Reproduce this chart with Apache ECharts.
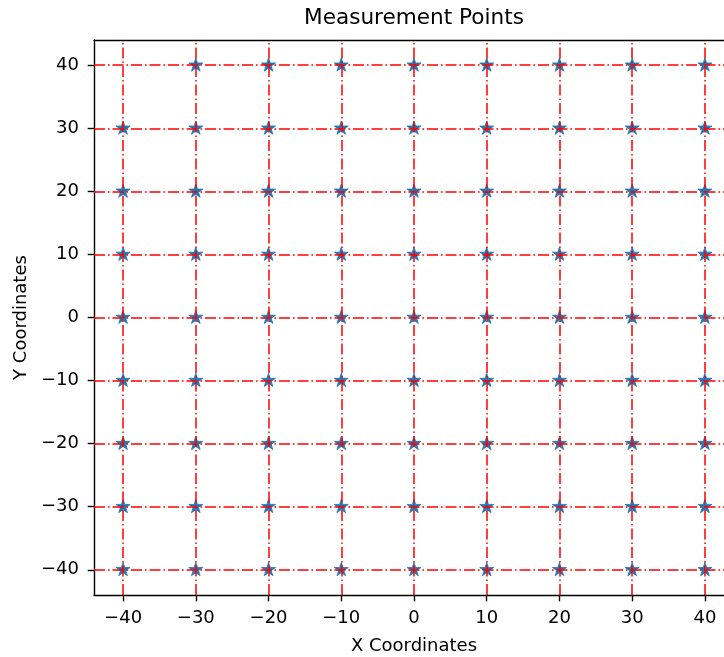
<!DOCTYPE html>
<html>
<head>
<meta charset="utf-8">
<script src="https://cdn.jsdelivr.net/npm/echarts@6/dist/echarts.min.js"></script>
<style>html,body{margin:0;padding:0;background:#fff}#c{width:724px;height:657px}</style>
</head>
<body>
<div id="c"></div>
<script>
const titleText = 'Measurement Points';
const xName = 'X Coordinates';
const yName = 'Y Coordinates';
const xTicks = [-40, -30, -20, -10, 0, 10, 20, 30, 40];
const yTicks = [-40, -30, -20, -10, 0, 10, 20, 30, 40];
const gridXs = [-40, -30, -20, -10, 0, 10, 20, 30, 40];
const gridYs = [-40, -30, -20, -10, 0, 10, 20, 30, 40];
const points = [
  [-30, 40], [-20, 40], [-10, 40], [0, 40], [10, 40], [20, 40], [30, 40], [40, 40],
  [-40, 30], [-30, 30], [-20, 30], [-10, 30], [0, 30], [10, 30], [20, 30], [30, 30], [40, 30],
  [-40, 20], [-30, 20], [-20, 20], [-10, 20], [0, 20], [10, 20], [20, 20], [30, 20], [40, 20],
  [-40, 10], [-30, 10], [-20, 10], [-10, 10], [0, 10], [10, 10], [20, 10], [30, 10], [40, 10],
  [-40, 0], [-30, 0], [-20, 0], [-10, 0], [0, 0], [10, 0], [20, 0], [30, 0], [40, 0],
  [-40, -10], [-30, -10], [-20, -10], [-10, -10], [0, -10], [10, -10], [20, -10], [30, -10], [40, -10],
  [-40, -20], [-30, -20], [-20, -20], [-10, -20], [0, -20], [10, -20], [20, -20], [30, -20], [40, -20],
  [-40, -30], [-30, -30], [-20, -30], [-10, -30], [0, -30], [10, -30], [20, -30], [30, -30], [40, -30],
  [-40, -40], [-30, -40], [-20, -40], [-10, -40], [0, -40], [10, -40], [20, -40], [30, -40], [40, -40]
];
const axisMin = -44, axisMax = 44;

const FONT = 'DejaVu Sans';
const star = 'path://M100,0 L122.45,69.1 L195.1,69.1 L136.33,111.8 L158.78,180.9 L100,138.2 L41.22,180.9 L63.67,111.8 L4.9,69.1 L77.55,69.1 Z';
const fmt = v => (v < 0 ? '\u2212' + Math.abs(v) : String(v));
const spine = { show: true, onZero: false, lineStyle: { color: '#000', width: 1.4 } };
const gridLine = { color: 'red', width: 1.5, type: [11, 2.9, 1.7, 2.9] };

const chart = echarts.init(document.getElementById('c'), null, { renderer: 'canvas' });
chart.setOption({
  animation: false,
  backgroundColor: '#fff',
  title: {
    text: titleText, left: 409, top: 2, textAlign: 'center',
    textStyle: { fontFamily: FONT, fontSize: 21.6, fontWeight: 'normal', color: '#000' }
  },
  grid: { left: 94, top: 40, width: 640, height: 555, containLabel: false, outerBoundsMode: 'none' },
  xAxis: [{
    type: 'value', min: axisMin, max: axisMax, position: 'bottom',
    name: xName, nameLocation: 'middle', nameGap: 42,
    nameTextStyle: { fontFamily: FONT, fontSize: 18, color: '#000' },
    axisLine: spine,
    axisTick: { show: true, customValues: xTicks, length: 6.3, lineStyle: { color: '#000', width: 1.4 } },
    axisLabel: { customValues: xTicks, margin: 14, formatter: fmt, fontFamily: FONT, fontSize: 18, color: '#000' },
    splitLine: { show: false }
  }, {
    type: 'value', min: axisMin, max: axisMax, position: 'top',
    axisLine: spine, axisTick: { show: false }, axisLabel: { show: false }, splitLine: { show: false }
  }],
  yAxis: [{
    type: 'value', min: axisMin, max: axisMax, position: 'left',
    name: yName, nameLocation: 'middle', nameGap: 62,
    nameTextStyle: { fontFamily: FONT, fontSize: 18, color: '#000' },
    axisLine: spine,
    axisTick: { show: true, customValues: yTicks, length: 6.3, lineStyle: { color: '#000', width: 1.4 } },
    axisLabel: { customValues: yTicks, margin: 15, formatter: fmt, fontFamily: FONT, fontSize: 18, color: '#000' },
    splitLine: { show: false }
  }, {
    type: 'value', min: axisMin, max: axisMax, position: 'right',
    axisLine: spine, axisTick: { show: false }, axisLabel: { show: false }, splitLine: { show: false }
  }],
  series: [{
    type: 'scatter',
    data: points,
    symbol: star,
    symbolKeepAspect: true,
    symbolSize: 14,
    symbolOffset: [0, -0.7],
    itemStyle: { color: '#1f77b4', borderColor: '#1f77b4', borderWidth: 0.8, opacity: 1 },
    z: 2
  }, {
    type: 'scatter',
    data: [],
    z: 3,
    silent: true,
    markLine: {
      silent: true, symbol: ['none', 'none'], animation: false,
      label: { show: false },
      lineStyle: gridLine,
      emphasis: { disabled: true },
      data: gridXs.map(v => ({ xAxis: v })).concat(gridYs.map(v => ({ yAxis: v })))
    }
  }]
});
</script>
</body>
</html>
